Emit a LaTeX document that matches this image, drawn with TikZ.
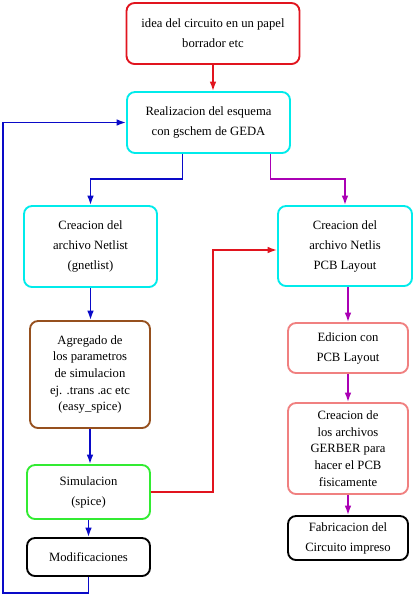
\documentclass[tikz,border=0pt]{standalone}
\usepackage{fontspec}
\setmainfont{Liberation Serif}
\usetikzlibrary{positioning,arrows.meta}

\definecolor{rojo}{RGB}{225,20,30}
\definecolor{celeste}{RGB}{0,235,235}
\definecolor{marron}{RGB}{150,80,30}
\definecolor{verde}{RGB}{50,235,50}
\definecolor{rosa}{RGB}{240,128,128}
\definecolor{azul}{RGB}{10,10,200}
\definecolor{violeta}{RGB}{170,0,180}

\begin{document}
\begin{tikzpicture}[x=0.75pt,y=-0.75pt,
  caja/.style={draw,rounded corners=6pt,line width=1.4pt,align=center,inner sep=2pt,
    font=\fontsize{9.5}{15}\selectfont},
  flecha/.style={-{Latex[length=7pt,width=5pt]},line width=1.3pt}]

\useasboundingbox (0,0) rectangle (414,597);

\node (idea) [caja,draw=rojo,minimum width=129.75pt,minimum height=45.75pt] at (213,33.5)
  {idea del circuito en un papel\\borrador etc};
\node (esq) [caja,draw=celeste,minimum width=122.25pt,minimum height=45.75pt] at (208.5,122.5)
  {Realizacion del esquema\\con gschem de GEDA};

\node (netlist) [caja,draw=celeste,minimum width=99.75pt,minimum height=60.75pt] at (90.5,246.5)
  {Creacion del\\archivo Netlist\\(gnetlist)};
\node (param) [caja,draw=marron,minimum width=90pt,minimum height=80.25pt,
  font=\fontsize{9.5}{12.5}\selectfont] at (90,374.5)
  {Agregado de\\los parametros\\de simulacion\\ej. .trans .ac etc\\(easy\_spice)};
\node (sim) [caja,draw=verde,minimum width=92.25pt,minimum height=40.5pt] at (88.5,492)
  {Simulacion\\(spice)};
\node (mod) [caja,draw=black,minimum width=92.25pt,minimum height=28.5pt] at (88.5,557)
  {Modificaciones};

\node (netpcb) [caja,draw=celeste,minimum width=100.5pt,minimum height=60pt] at (345,246)
  {Creacion del\\archivo Netlis\\PCB Layout};
\node (edic) [caja,draw=rosa,minimum width=90pt,minimum height=37.5pt] at (348,348)
  {Edicion con\\PCB Layout};
\node (gerber) [caja,draw=rosa,minimum width=90pt,minimum height=68.25pt,
  font=\fontsize{9.5}{12.5}\selectfont] at (348,448.5)
  {Creacion de\\los archivos\\GERBER para\\hacer el PCB\\fisicamente};
\node (fab) [caja,draw=black,minimum width=90pt,minimum height=33pt] at (348,538)
  {Fabricacion del\\Circuito impreso};

\coordinate (lazo) at (3,593);
\coordinate (codo) at (213,250);

\draw[flecha,rojo] (idea) -- (idea |- esq.north);
\draw[flecha,azul] ([xshift=-19.5pt]esq.south) -- ++(0,25) -| (netlist.north);
\draw[flecha,violeta] ([xshift=46.5pt]esq.south) -- ++(0,25) -| (netpcb.north);

\draw[flecha,azul] (netlist) -- (netlist |- param.north);
\draw[flecha,azul] (param) -- (param |- sim.north);
\draw[flecha,azul] (sim) -- (mod);
\draw[flecha,azul] (mod.south) |- (lazo) |- (esq.west);

\draw[flecha,rojo] (sim.east) -| (codo) -- (codo -| netpcb.west);

\draw[flecha,violeta] (netpcb.south -| edic) -- (edic);
\draw[flecha,violeta] (edic) -- (gerber);
\draw[flecha,violeta] (gerber) -- (fab);

\end{tikzpicture}
\end{document}
